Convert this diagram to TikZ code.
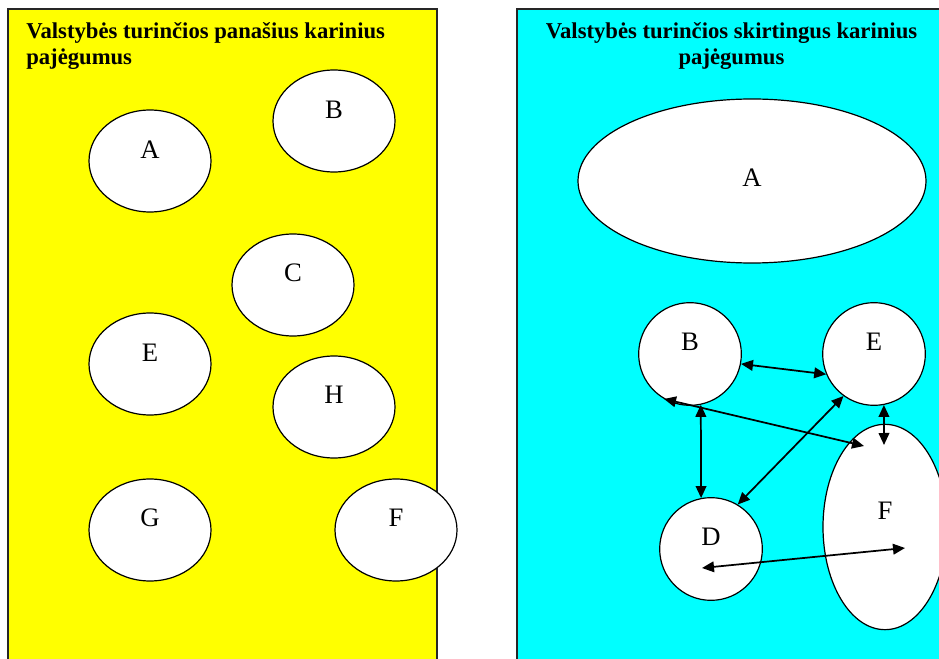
\documentclass[tikz,border=0pt]{standalone}
\usepackage{fontspec}
\setmainfont{Liberation Serif}
\usetikzlibrary{shapes.geometric,arrows.meta,calc}
\definecolor{panelyellow}{RGB}{255,255,0}
\definecolor{panelcyan}{RGB}{0,255,255}

\begin{document}
\begin{tikzpicture}[x=0.75pt, y=-0.75pt,
    panel/.style={draw=black!85, line width=1.1pt},
    title/.style={font=\fontsize{17}{19.5}\selectfont\bfseries, inner sep=0pt},
    oval/.style={ellipse, draw, fill=white, line width=0.9pt, inner sep=0pt, minimum width=91.5pt, minimum height=76.5pt},
    ring/.style={circle, draw, fill=white, line width=0.9pt, inner sep=0pt, minimum size=77pt},
    tag/.style={font=\fontsize{20}{20}\selectfont, inner sep=0pt},
    link/.style={{Triangle[length=9pt,width=8pt]}-{Triangle[length=9pt,width=8pt]}, line width=1.3pt}
]
    \useasboundingbox (0,0) rectangle (939,659);
    \clip (0,0) rectangle (939,659);

    % panels
    \draw[panel, fill=panelyellow] (8,9) rectangle (437,680);
    \draw[panel, fill=panelcyan] (517,9) rectangle (946,680);

    \node[title, anchor=base west, align=left] (tl) at (26,65) {Valstybės turinčios panašius karinius\\pajėgumus};
    \node[title, anchor=base, align=center] (tr) at (731.5,65) {Valstybės turinčios skirtingus karinius\\pajėgumus};

    % left panel
    \node[oval, label={[tag, yshift=8.5pt]center:A}] (lA) at (150,161) {};
    \node[oval, label={[tag, yshift=8.5pt]center:B}] (lB) at (334,121) {};
    \node[oval, label={[tag, yshift=9pt]center:C}] (lC) at (293,285) {};
    \node[oval, label={[tag, yshift=8.5pt]center:E}] (lE) at (150,364) {};
    \node[oval, label={[tag, yshift=9pt]center:H}] (lH) at (334,407) {};
    \node[oval, label={[tag, yshift=9pt]center:G}] (lG) at (150,530) {};
    \node[oval, label={[tag, yshift=9.5pt]center:F}] (lF) at (396,530) {};

    % right panel
    \node[ellipse, draw, fill=white, line width=0.9pt, minimum width=261pt, minimum height=123pt,
          label={[tag, yshift=2.5pt]center:A}] (rA) at (752,181) {};
    \node[ring, label={[tag, yshift=9pt]center:B}] (rB) at (690,354) {};
    \node[ring, label={[tag, yshift=9pt]center:E}] (rE) at (874,354) {};
    \node[ring, label={[tag, yshift=9pt]center:D}] (rD) at (711,549) {};
    \node[ellipse, draw, fill=white, line width=0.9pt, inner sep=0pt, minimum width=93pt, minimum height=154pt,
          label={[tag, yshift=12pt]center:F}] (rF) at (885,527) {};

    \coordinate (fTop) at ($(rF.center)+(-1,-82)$);
    \coordinate (fLeft) at ($(rF.center)+(-21,-81)$);
    \coordinate (fMid) at ($(rF.center)+(20,21)$);
    \coordinate (dMid) at ($(rD.center)+(-9,19)$);

    \draw[link] (rB.-11) -- (rE.203);
    \draw[link] (rB.-120) -- (fLeft);
    \draw[link] (rB.-78) -- (rD.101);
    \draw[link] (rE.-126) -- (rD.59);
    \draw[link] (rE.-79) -- (fTop);
    \draw[link] (dMid) -- (fMid);
\end{tikzpicture}
\end{document}
